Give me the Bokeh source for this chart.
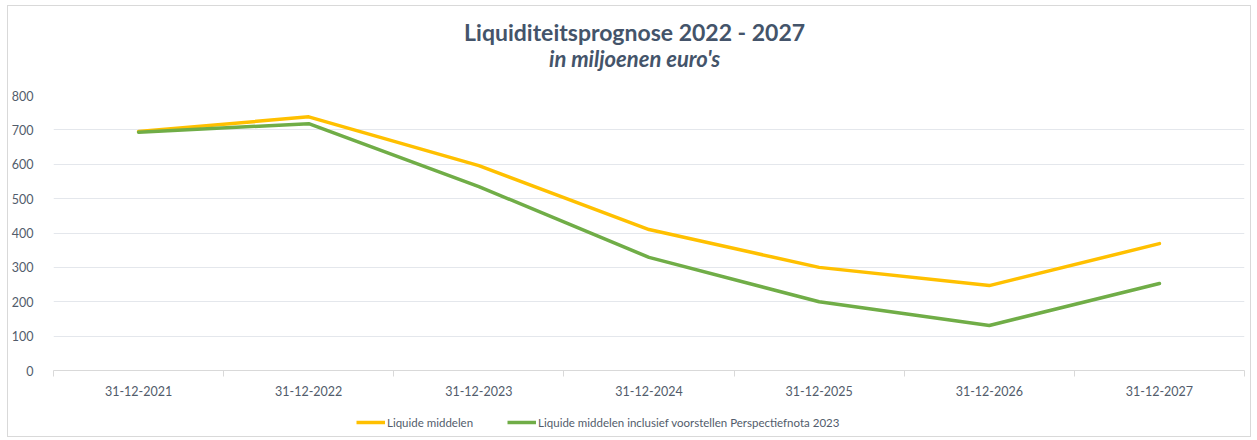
from bokeh.plotting import figure
from bokeh.layouts import column
from bokeh.models import FixedTicker, Legend, LegendItem, Range1d, Label
from bokeh.embed import file_html
from bokeh.resources import INLINE

categories = ["31-12-2021", "31-12-2022", "31-12-2023", "31-12-2024", "31-12-2025", "31-12-2026", "31-12-2027"]
liquide = [695, 738, 596, 410, 300, 247, 369]
liquide_incl = [693, 718, 535, 329, 200, 131, 253]
y_ticks = [0, 100, 200, 300, 400, 500, 600, 700, 800]
series_names = ["Liquide middelen", "Liquide middelen inclusief voorstellen Perspectiefnota 2023"]
title_text = "Liquiditeitsprognose 2022 - 2027"
subtitle_text = "in miljoenen euro's"

FONT = "Lato"
TXT = "#525C6B"
TITLE = "#44546A"
YELLOW = "#FFC000"
GREEN = "#70AD47"
W = 1242

xs = [i + 0.5 for i in range(len(categories))]

# title strip
tf = figure(width=W, height=79, output_backend="svg", toolbar_location=None,
            x_axis_location=None, y_axis_location=None,
            min_border=0, x_range=Range1d(0, W), y_range=Range1d(0, 79))
tf.grid.visible = False
tf.outline_line_color = None
tf.add_layout(Label(x=606, y=54, text=title_text, text_font=FONT, text_font_size="23px",
                    text_font_style="bold", text_color=TITLE, text_align="center",
                    text_baseline="alphabetic"))
tf.add_layout(Label(x=606, y=27, text=subtitle_text, text_font=FONT, text_font_size="22px",
                    text_font_style="bold italic", text_color=TITLE, text_align="center",
                    text_baseline="alphabetic"))

# main chart
p = figure(width=W, height=319, output_backend="svg", toolbar_location=None,
           x_range=Range1d(0, len(categories)), y_range=Range1d(0, 800),
           min_border_left=45, min_border_right=6, min_border_top=10, min_border_bottom=34)
p.outline_line_color = None
p.border_fill_color = "white"
p.background_fill_color = "white"

p.line(xs, liquide, line_color=YELLOW, line_width=3.5, line_join="round", line_cap="round")
p.line(xs, liquide_incl, line_color=GREEN, line_width=3.5, line_join="round", line_cap="round")

p.xaxis.ticker = FixedTicker(ticks=xs, minor_ticks=list(range(len(categories) + 1)))
p.xaxis.major_label_overrides = {x: c for x, c in zip(xs, categories)}
p.xaxis.major_tick_line_color = None
p.xaxis.minor_tick_line_color = "#D9D9D9"
p.xaxis.minor_tick_out = 6
p.xaxis.minor_tick_in = 0
p.xaxis.axis_line_color = "#D9D9D9"
p.xaxis.major_label_text_font = FONT
p.xaxis.major_label_text_font_size = "12.5px"
p.xaxis.major_label_text_color = TXT
p.xaxis.major_label_standoff = 9
p.xgrid.grid_line_color = None

p.yaxis.ticker = FixedTicker(ticks=y_ticks)
p.yaxis.axis_line_color = None
p.yaxis.major_tick_line_color = None
p.yaxis.minor_tick_line_color = None
p.yaxis.major_label_text_font = FONT
p.yaxis.major_label_text_font_size = "12.5px"
p.yaxis.major_label_text_color = TXT
p.yaxis.major_label_standoff = 14
p.ygrid.grid_line_color = "#E4E7EC"
p.ygrid.grid_line_width = 1

# legend strip
lg = figure(width=W, height=32, output_backend="svg", toolbar_location=None,
            x_axis_location=None, y_axis_location=None,
            min_border=0, x_range=Range1d(0, 1), y_range=Range1d(-2, -1))
lg.grid.visible = False
lg.outline_line_color = None
lr1 = lg.line(xs, liquide, line_color=YELLOW, line_width=3.5)
lr2 = lg.line(xs, liquide_incl, line_color=GREEN, line_width=3.5)
legend = Legend(items=[LegendItem(label=series_names[0], renderers=[lr1]),
                       LegendItem(label=series_names[1], renderers=[lr2])],
                orientation="horizontal", location=(303, 7), border_line_color=None,
                label_text_font=FONT, label_text_font_size="11.5px", label_text_color=TXT,
                glyph_width=29, glyph_height=14, label_standoff=2, spacing=34,
                padding=8, margin=0, background_fill_alpha=0)
lg.add_layout(legend, "center")

layout = column(tf, p, lg, spacing=0, margin=(5, 0, 0, 7),
                styles={"border": "1px solid #D9D9D9", "background-color": "white"})
open("out.html", "w").write(file_html(layout, INLINE))
